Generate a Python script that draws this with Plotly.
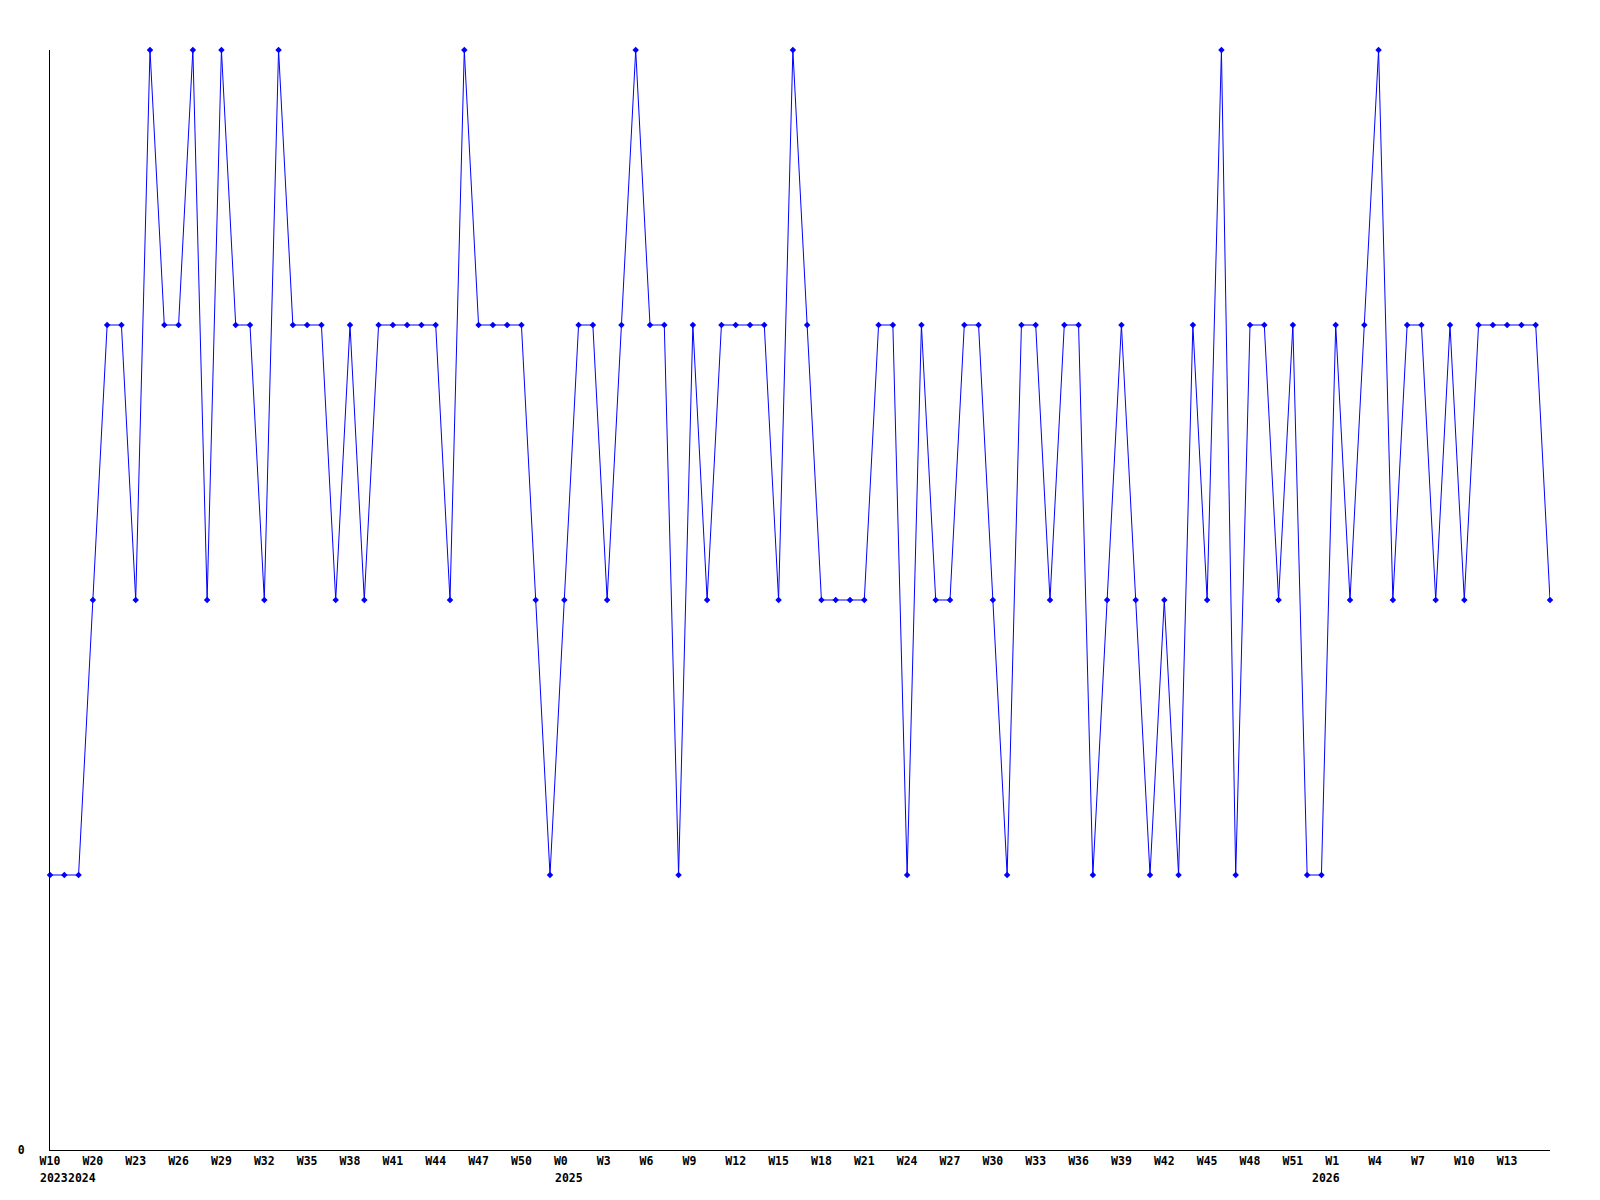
import plotly.graph_objects as go

# ---- data ----
years = [2023] + [2024] * 35 + [2025] * 53 + [2026] * 17
weeks = [10] + list(range(18, 53)) + list(range(0, 53)) + list(range(0, 17))
values = [
    1, 1, 1, 2, 3, 3, 2, 4, 3, 3,
    4, 2, 4, 3, 3, 2, 4, 3, 3, 3,
    2, 3, 2, 3, 3, 3, 3, 3, 2, 4,
    3, 3, 3, 3, 2, 1, 2, 3, 3, 2,
    3, 4, 3, 3, 1, 3, 2, 3, 3, 3,
    3, 2, 4, 3, 2, 2, 2, 2, 3, 3,
    1, 3, 2, 2, 3, 3, 2, 1, 3, 3,
    2, 3, 3, 1, 2, 3, 2, 1, 2, 1,
    3, 2, 4, 1, 3, 3, 2, 3, 1, 1,
    3, 2, 3, 4, 2, 3, 3, 2, 3, 2,
    3, 3, 3, 3, 3, 2,
]
y_ticks = [0]
y_ticklabels = ["0"]

cats = [f"{y}-W{w:02d}" for y, w in zip(years, weeks)]
n = len(cats)

FSIZE = 11.5
FONT = dict(family="DejaVu Sans Mono", size=FSIZE, color="#000000", weight="bold")

tick_idx = list(range(0, n - 1, 3))
tickvals = [cats[i] for i in tick_idx]
ticktext = []
for i in tick_idx:
    s = f"W{weeks[i]}"
    s = s + "\u00a0" * (3 - len(s))
    ticktext.append(s)

fig = go.Figure()
fig.add_trace(go.Scatter(
    x=cats, y=values, mode="lines+markers",
    line=dict(color="#0000ff", width=1),
    marker=dict(color="#0000ff", symbol="diamond", size=5),
    cliponaxis=False,
    hoverinfo="x+y",
))

# year labels at the first point of each year, pushed right if overlapping
span = n - 1
plot_w = 1500.0
char_units = 0.602 * FSIZE / (plot_w / span)
label_w = 4 * char_units
prev_right = -1e9
seen = []
for i, y in enumerate(years):
    if y in seen:
        continue
    seen.append(y)
    left = i - 0.75
    if left < prev_right:
        left = prev_right
    prev_right = left + label_w
    fig.add_annotation(
        x=left / span, y=0, xref="paper", yref="paper", xanchor="left", yanchor="top",
        text=str(y), showarrow=False, yshift=-20, font=FONT,
        borderpad=0,
    )

fig.update_layout(
    width=1600, height=1200,
    margin=dict(l=50, r=50, t=50, b=50),
    paper_bgcolor="white", plot_bgcolor="white",
    showlegend=False,
    font=FONT,
)
fig.update_xaxes(
    type="category", categoryorder="array", categoryarray=cats,
    range=[0, span], tickvals=tickvals, ticktext=ticktext,
    showline=True, linecolor="black", linewidth=1, showgrid=False,
    zeroline=False, ticks="", tickangle=0, tickfont=FONT,
)
fig.update_yaxes(
    range=[0, 4], tickvals=y_ticks, ticktext=y_ticklabels,
    showline=True, linecolor="black", linewidth=1, showgrid=False,
    zeroline=False, ticks="", ticklabelstandoff=22, tickfont=FONT,
)

fig.write_html(
    "out.html",
    config={"displayModeBar": False},
    post_script="document.body.style.margin='0';document.body.style.overflow='hidden';",
)
